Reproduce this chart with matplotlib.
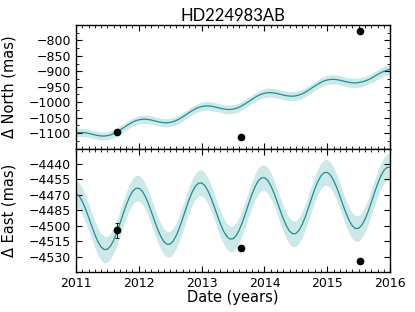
import numpy as np
import matplotlib
matplotlib.use("Agg")
import matplotlib.pyplot as plt
from matplotlib.ticker import MultipleLocator

# model time grid (years), 0.05 yr steps from 2011.0 to 2016.0
t_model = np.arange(101) * 0.05 + 2011.0

north_model = [
    -1100.0, -1098.4, -1098.0, -1099.0, -1100.9, -1103.4, -1105.8, -1108.0, -1109.4, -1109.6,
    -1108.5, -1105.9, -1101.9, -1096.7, -1090.4, -1083.7, -1076.9, -1070.5, -1064.7, -1060.2,
    -1057.0, -1055.4, -1055.0, -1056.0, -1057.9, -1060.4, -1062.8, -1065.0, -1066.4, -1066.6,
    -1065.5, -1062.9, -1058.9, -1053.7, -1047.4, -1040.7, -1033.9, -1027.5, -1021.7, -1017.2,
    -1014.0, -1012.4, -1012.0, -1013.0, -1014.9, -1017.4, -1019.8, -1022.0, -1023.4, -1023.6,
    -1022.5, -1019.9, -1015.9, -1010.7, -1004.4, -997.7, -990.9, -984.5, -978.7, -974.2,
    -971.0, -969.4, -969.0, -970.0, -971.9, -974.4, -976.8, -979.0, -980.4, -980.6,
    -979.5, -976.9, -972.9, -967.7, -961.4, -954.7, -947.9, -941.5, -935.7, -931.2,
    -928.0, -926.4, -926.0, -927.0, -928.9, -931.4, -933.8, -936.0, -937.4, -937.6,
    -936.5, -934.5, -931.5, -927.5, -922.5, -916.5, -910.5, -905.0, -900.0, -896.5,
    -893.0,
]

north_band = [
    13.0, 13.0, 13.0, 13.0, 13.0, 13.0, 13.0, 13.0, 13.0, 13.0,
    13.0, 13.0, 13.0, 13.0, 13.0, 13.0, 13.0, 13.0, 13.0, 13.0,
    13.5, 13.5, 13.5, 13.5, 13.5, 13.5, 13.5, 13.5, 13.5, 13.5,
    13.5, 13.5, 13.5, 13.5, 13.5, 13.5, 13.5, 13.5, 13.5, 13.5,
    14.0, 14.0, 14.0, 14.0, 14.0, 14.0, 14.0, 14.0, 14.0, 14.0,
    14.0, 14.0, 14.0, 14.0, 14.0, 14.0, 14.0, 14.0, 14.0, 14.0,
    14.5, 14.5, 14.5, 14.5, 14.5, 14.5, 14.5, 14.5, 14.5, 14.5,
    14.5, 14.5, 14.5, 14.5, 14.5, 14.5, 14.5, 14.5, 14.5, 14.5,
    15.0, 15.0, 15.0, 15.0, 15.0, 15.0, 15.0, 15.0, 15.0, 15.0,
    15.0, 15.0, 15.0, 15.0, 15.0, 15.0, 15.0, 15.0, 15.0, 15.0,
    15.5,
]

east_model = [
    -4468.6, -4471.1, -4476.2, -4483.2, -4491.5, -4500.2, -4508.5, -4515.5, -4520.6, -4523.1,
    -4522.9, -4519.8, -4514.2, -4506.7, -4497.9, -4488.7, -4479.9, -4472.4, -4466.8, -4463.8,
    -4463.5, -4466.0, -4471.1, -4478.1, -4486.4, -4495.1, -4503.4, -4510.4, -4515.5, -4518.0,
    -4517.8, -4514.7, -4509.1, -4501.6, -4492.8, -4483.6, -4474.8, -4467.3, -4461.7, -4458.7,
    -4458.4, -4460.9, -4466.0, -4473.0, -4481.3, -4490.0, -4498.3, -4505.3, -4510.4, -4512.9,
    -4512.7, -4509.6, -4504.0, -4496.5, -4487.7, -4478.5, -4469.7, -4462.2, -4456.6, -4453.6,
    -4453.3, -4455.8, -4460.9, -4467.9, -4476.2, -4484.9, -4493.2, -4500.2, -4505.3, -4507.8,
    -4507.6, -4504.5, -4498.9, -4491.4, -4482.6, -4473.4, -4464.6, -4457.1, -4451.5, -4448.5,
    -4448.2, -4450.7, -4455.8, -4462.8, -4471.1, -4479.8, -4488.1, -4495.1, -4500.2, -4502.7,
    -4502.5, -4499.4, -4493.8, -4486.3, -4477.5, -4468.3, -4459.5, -4452.0, -4446.4, -4443.4,
    -4443.1,
]

east_band = [
    13.0, 13.0, 13.0, 13.0, 13.0, 13.0, 13.0, 13.0, 13.0, 13.0,
    12.5, 12.5, 12.5, 12.5, 12.5, 12.5, 12.5, 12.5, 12.5, 12.5,
    12.5, 12.5, 12.5, 12.5, 12.5, 12.5, 12.5, 12.5, 12.5, 12.5,
    12.5, 12.5, 12.5, 12.5, 12.5, 12.5, 12.5, 12.5, 12.5, 12.5,
    12.5, 12.5, 12.5, 12.5, 12.5, 12.5, 12.5, 12.5, 12.5, 12.5,
    12.5, 12.5, 12.5, 12.5, 12.5, 12.5, 12.5, 12.5, 12.5, 12.5,
    12.5, 12.5, 12.5, 12.5, 12.5, 12.5, 12.5, 12.5, 12.5, 12.5,
    12.5, 12.5, 12.5, 12.5, 12.5, 12.5, 12.5, 12.5, 12.5, 12.5,
    12.5, 12.5, 12.5, 12.5, 12.5, 12.5, 12.5, 12.5, 12.5, 12.5,
    12.5, 12.5, 12.5, 12.5, 12.5, 12.5, 12.5, 12.5, 12.5, 12.5,
    13.0,
]

# measured epochs
t_obs = [2011.65, 2013.63, 2015.52]
north_obs = [-1098, -1112, -769]
north_obs_err = [3, 3, 3]
east_obs = [-4504.5, -4522, -4534.5]
east_obs_err = [7, 2, 2]

north_ticks = [-1100, -1050, -1000, -950, -900, -850, -800]
east_ticks = [-4530, -4515, -4500, -4485, -4470, -4455, -4440]
year_ticks = [2011, 2012, 2013, 2014, 2015, 2016]

line_col = "#1f8f8f"
band_col = "#cce8e8"

fig, (ax1, ax2) = plt.subplots(2, 1, figsize=(4.15, 3.12), dpi=100, sharex=True)
fig.subplots_adjust(left=0.183, right=0.940, top=0.920, bottom=0.128, hspace=0)

nm = np.array(north_model)
nb = np.array(north_band)
ax1.fill_between(t_model, nm - nb, nm + nb, color=band_col, lw=0)
ax1.plot(t_model, nm, color=line_col, lw=0.9)
ax1.errorbar(t_obs, north_obs, yerr=north_obs_err, fmt="o", color="k",
             ms=4.5, capsize=1.5, elinewidth=0.6, capthick=0.6)
ax1.set_ylim(-1150, -750)
ax1.set_yticks(north_ticks)
ax1.yaxis.set_minor_locator(MultipleLocator(25))
ax1.set_ylabel("Δ North (mas)", fontsize=10.5)
ax1.yaxis.set_label_coords(-0.19, 0.5)
ax1.set_title("HD224983AB", fontsize=12, family="Lato", pad=3)

em = np.array(east_model)
eb = np.array(east_band)
ax2.fill_between(t_model, em - eb, em + eb, color=band_col, lw=0)
ax2.plot(t_model, em, color=line_col, lw=0.9)
ax2.errorbar(t_obs, east_obs, yerr=east_obs_err, fmt="o", color="k",
             ms=4.5, capsize=1.5, elinewidth=0.6, capthick=0.6)
ax2.set_ylim(-4545, -4425)
ax2.set_yticks(east_ticks)
ax2.set_ylabel("Δ East (mas)", fontsize=10.5)
ax2.yaxis.set_label_coords(-0.19, 0.5)
ax2.set_xlabel("Date (years)", fontsize=10.5, labelpad=0)

ax2.set_xlim(2011, 2016)
ax2.set_xticks(year_ticks)
ax2.xaxis.set_minor_locator(MultipleLocator(0.1))

for ax in (ax1, ax2):
    ax.tick_params(which="both", direction="in", top=True, right=True, labelsize=9)
    ax.tick_params(which="major", length=4.5, width=0.8)
    ax.tick_params(which="minor", length=2.2, width=0.6)
    for s in ax.spines.values():
        s.set_linewidth(1.0)

ax1.tick_params(labelbottom=False)

fig.savefig("out.png", dpi=100)
